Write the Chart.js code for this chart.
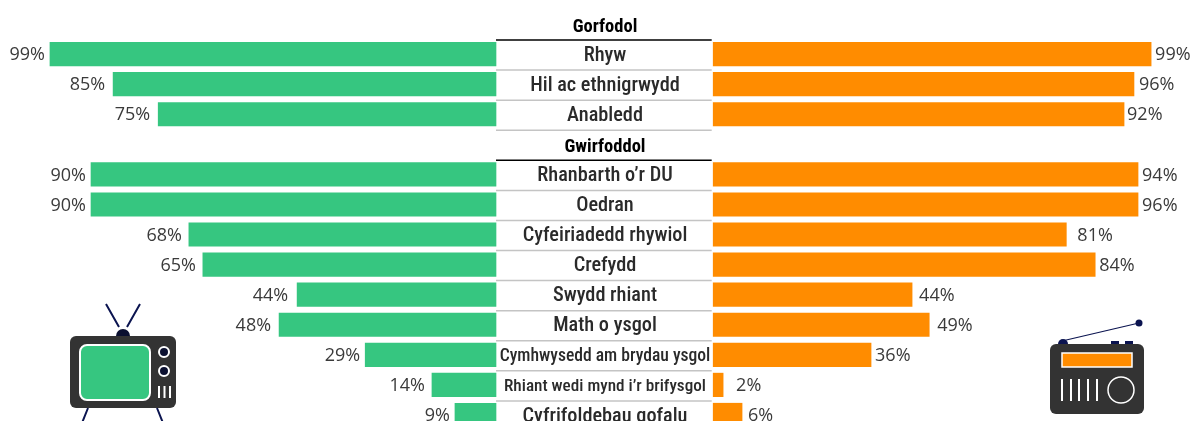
<!DOCTYPE html>
<html>
<head>
<meta charset="utf-8">
<script src="https://cdn.jsdelivr.net/npm/chart.js@4"></script>
<style>
    html, body { margin: 0; padding: 0; background: #fff; overflow: hidden; width: 1192px; height: 421px; }
    #wrap { position: relative; width: 1192px; height: 421px; overflow: hidden; }
    #chartWrap { position: absolute; left: 0; top: 0; width: 1192px; height: 440px; }
    svg { position: absolute; left: 0; top: 0; }
</style>
</head>
<body>
<div id="wrap">
    <div id="chartWrap"><canvas id="chart"></canvas></div>
    <svg width="1192" height="421" viewBox="0 0 1192 421">
        <!-- TV -->
        <g stroke="#0b1450" stroke-width="2" fill="none">
            <path d="M106 304L119 327M140 304L127 327M88 408L82 423M157 408L163 423"/>
        </g>
        <path d="M116 336a7 7 0 0 1 14 0z" fill="#0b1030"/>
        <rect x="70" y="336" width="106" height="72" rx="6" fill="#333"/>
        <rect x="80" y="345" width="70" height="55" rx="7" fill="#36c680" stroke="#fff" stroke-width="2"/>
        <circle cx="164" cy="352" r="5" fill="#0b1030" stroke="#fff" stroke-width="2"/>
        <circle cx="164" cy="371" r="5" fill="#0b1030" stroke="#fff" stroke-width="2"/>
        <path d="M159 386V398M164.500 386V398M170 386V398" stroke="#fff" stroke-width="2"/>
        <!-- Radio -->
        <path d="M1062 341L1139 323" stroke="#0b1450" stroke-width="1.2"/>
        <circle cx="1139" cy="323" r="3.500" fill="#0b1450"/>
        <path d="M1058 344a5 5 0 0 1 10 0z" fill="#0b1450"/>
        <rect x="1111" y="341" width="8" height="3" fill="#0b1450"/>
        <rect x="1125" y="341" width="8" height="3" fill="#0b1450"/>
        <rect x="1050" y="344" width="94" height="70" rx="6" fill="#333"/>
        <rect x="1062" y="353" width="70" height="14" fill="#ff8c00" stroke="#fff" stroke-width="1.5"/>
        <path d="M1062 379V401M1071 379V401M1079 379V401M1088 379V401M1097 379V401" stroke="#fff" stroke-width="2" fill="none"/>
        <circle cx="1121" cy="390" r="13" fill="none" stroke="#fff" stroke-width="1.5"/>
    </svg>
</div>
<script>
    // Rows from top to bottom, group headings have no bars
    const categories = ["Gorfodol", "Rhyw", "Hil ac ethnigrwydd", "Anabledd", "Gwirfoddol", "Rhanbarth o’r DU", "Oedran",
        "Cyfeiriadedd rhywiol", "Crefydd", "Swydd rhiant", "Math o ysgol", "Cymhwysedd am brydau ysgol",
        "Rhiant wedi mynd i’r brifysgol", "Cyfrifoldebau gofalu"];
    const headings = ["Gorfodol", "Gwirfoddol"];

    // Bar lengths as drawn in the picture
    const tvValues = [null, 98.9, 84.9, 74.9, null, 89.8, 89.8, 68.1, 65, 44.1, 48.1, 29, 14.2, 9.1];
    const radioValues = [null, 97.1, 93.3, 91.1, null, 94.2, 94.2, 78.3, 84.7, 44.1, 47.9, 35, 2.2, 6.4];

    // Percentages as printed next to the bars (the radio bars do not always agree with them)
    const tvLabels = [null, "99%", "85%", "75%", null, "90%", "90%", "68%", "65%", "44%", "48%", "29%", "14%", "9%"];
    const radioLabels = [null, "99%", "96%", "92%", null, "94%", "96%", "81%", "84%", "44%", "49%", "36%", "2%", "6%"];

    const pxPerUnit = 4.51;
    const chartWidth = 1192;
    const tvZero = 496;
    const radioZero = 713.2;
    const midX = 605;
    const labelFont = '"Roboto", sans-serif';

    // Long labels were set smaller in the original
    const labelSizes = { "Gorfodol": 18.5, "Gwirfoddol": 18.5, "Cymhwysedd am brydau ysgol": 17.6, "Rhiant wedi mynd i’r brifysgol": 17.2 };

    // Gap between bar end and percentage, it varies in the original
    const tvGaps = [0, 5, 8, 8, 0, 5, 5, 7, 7, 9, 8, 5, 7, 5];
    const radioGaps = [0, 4, 5, 3, 0, 4, 4, 11, 4, 7, 8, 4, 13, 6];

    const tableLabels = {
        id: 'tableLabels',
        afterDatasetsDraw(chart) {
            const ctx = chart.ctx;
            const yScale = chart.scales.y;
            ctx.save();
            ctx.textBaseline = 'middle';

            categories.forEach((name, i) => {
                const y = yScale.getPixelForValue(i);
                const isHeading = headings.includes(name);
                const size = labelSizes[name] || 20.3;

                ctx.fillStyle = isHeading ? '#000' : '#2a2a2a';
                ctx.font = (isHeading ? '700 ' : '500 ') + size + 'px ' + labelFont;
                ctx.textAlign = 'center';
                ctx.fontStretch = 'condensed';
                ctx.fillText(name, midX, isHeading ? y + 3.5 : y + 1.5);

                // line under each row, black under the headings
                const lineY = y + 16;
                ctx.beginPath();
                ctx.moveTo(tvZero, lineY);
                ctx.lineTo(radioZero - 1.5, lineY);
                ctx.lineWidth = 1.5;
                ctx.strokeStyle = isHeading ? '#000' : '#c4c4c4';
                ctx.stroke();
            });

            // percentages beside the bars
            ctx.font = '400 18px "Open Sans", sans-serif';
            ctx.fillStyle = '#3a3a3a';
            ctx.fontStretch = 'normal';
            chart.getDatasetMeta(0).data.forEach((bar, i) => {
                if (tvLabels[i]) {
                    ctx.textAlign = 'right';
                    ctx.fillText(tvLabels[i], bar.x - tvGaps[i], bar.y + 1);
                }
            });
            chart.getDatasetMeta(1).data.forEach((bar, i) => {
                if (radioLabels[i]) {
                    ctx.textAlign = 'left';
                    ctx.fillText(radioLabels[i], bar.x + radioGaps[i], bar.y + 1);
                }
            });
            ctx.restore();
        }
    };

    new Chart(document.getElementById('chart').getContext('2d'), {
        type: 'bar',
        data: {
            labels: categories,
            datasets: [
                { label: 'Teledu', data: tvValues, xAxisID: 'xTv', backgroundColor: '#36c680', grouped: false, barThickness: 23.5 },
                { label: 'Radio', data: radioValues, xAxisID: 'xRadio', backgroundColor: '#ff8c00', grouped: false, barThickness: 23.5 }
            ]
        },
        options: {
            indexAxis: 'y',
            responsive: true,
            maintainAspectRatio: false,
            animation: false,
            layout: { padding: { top: 9, bottom: 10 } },
            plugins: { legend: { display: false }, tooltip: { enabled: false } },
            scales: {
                y: { display: false },
                xTv: {
                    display: false,
                    reverse: true,
                    min: -(chartWidth - tvZero) / pxPerUnit,
                    max: tvZero / pxPerUnit
                },
                xRadio: {
                    display: false,
                    min: -radioZero / pxPerUnit,
                    max: (chartWidth - radioZero) / pxPerUnit
                }
            }
        },
        plugins: [tableLabels]
    });
</script>
</body>
</html>
